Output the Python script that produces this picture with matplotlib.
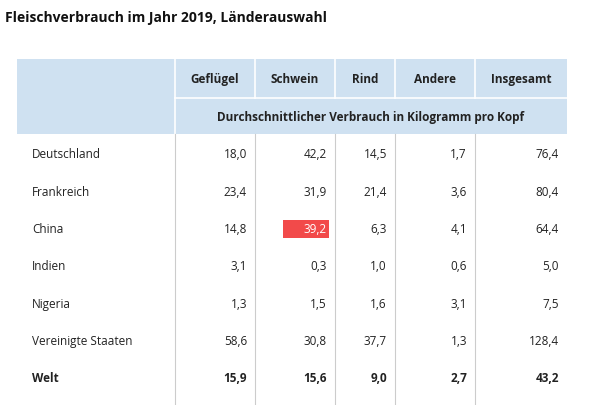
import matplotlib
matplotlib.use("Agg")
import matplotlib.pyplot as plt
from matplotlib.patches import Rectangle

title = "Fleischverbrauch im Jahr 2019, Länderauswahl"
columns = ["Geflügel", "Schwein", "Rind", "Andere", "Insgesamt"]
subheader = "Durchschnittlicher Verbrauch in Kilogramm pro Kopf"
countries = ["Deutschland", "Frankreich", "China", "Indien", "Nigeria", "Vereinigte Staaten", "Welt"]
gefluegel = [18.0, 23.4, 14.8, 3.1, 1.3, 58.6, 15.9]
schwein = [42.2, 31.9, 39.2, 0.3, 1.5, 30.8, 15.6]
rind = [14.5, 21.4, 6.3, 1.0, 1.6, 37.7, 9.0]
andere = [1.7, 3.6, 4.1, 0.6, 3.1, 1.3, 2.7]
insgesamt = [76.4, 80.4, 64.4, 5.0, 7.5, 128.4, 43.2]
highlight = ("China", "Schwein")

W, H = 590, 406
fig = plt.figure(figsize=(W/100, H/100), dpi=100)
ax = fig.add_axes([0, 0, 1, 1])
ax.set_xlim(0, W); ax.set_ylim(H, 0); ax.axis("off")
plt.rcParams['font.family'] = ['Open Sans', 'DejaVu Sans']

edges = [17, 175, 255, 335, 395, 475, 567]
hdr_top, hdr_mid, hdr_bot = 60, 99, 135
row_h = 37.3
row0 = 155
blue = "#cfe1f1"
txt = "#222222"

ax.text(5, 18, title, fontsize=10, fontweight="bold", va="center", ha="left", color="#111111")
ax.add_patch(Rectangle((edges[0], hdr_top), edges[-1]-edges[0], hdr_bot-hdr_top, color=blue, lw=0))
for i, c in enumerate(columns):
    ax.text((edges[i+1]+edges[i+2])/2, (hdr_top+hdr_mid)/2, c, fontsize=8.5, fontweight="bold",
            ha="center", va="center", color=txt)
ax.plot([edges[1], edges[-1]], [hdr_mid, hdr_mid], color="white", lw=1.2)
for x in edges[1:-1]:
    ax.plot([x, x], [hdr_top, hdr_mid if x != edges[1] else hdr_bot], color="white", lw=1.2)
ax.text((edges[1]+edges[-1])/2, (hdr_mid+hdr_bot)/2, subheader, fontsize=8.5, fontweight="bold",
        ha="center", va="center", color=txt)
bottom = row0 + row_h*len(countries) - row_h/2 + 8
for x in edges[1:-1]:
    ax.plot([x, x], [hdr_bot, bottom], color="#cccccc", lw=0.8)

series = [gefluegel, schwein, rind, andere, insgesamt]
for r, name in enumerate(countries):
    y = row0 + r*row_h
    bold = name == "Welt"
    ax.text(32, y, name, fontsize=8.5, ha="left", va="center", color=txt,
            fontweight="bold" if bold else "normal")
    for ci, s in enumerate(series):
        xr = edges[ci+2] - 8
        label = f"{s[r]:.1f}".replace(".", ",")
        if (name, columns[ci]) == highlight:
            ax.add_patch(Rectangle((xr-44, y-9), 46, 18, color="#f24a4a", lw=0))
            ax.text(xr, y, label, fontsize=8.5, ha="right", va="center", color="white")
        else:
            ax.text(xr, y, label, fontsize=8.5, ha="right", va="center", color=txt,
                    fontweight="bold" if bold else "normal")

fig.savefig("out.png", dpi=100)
